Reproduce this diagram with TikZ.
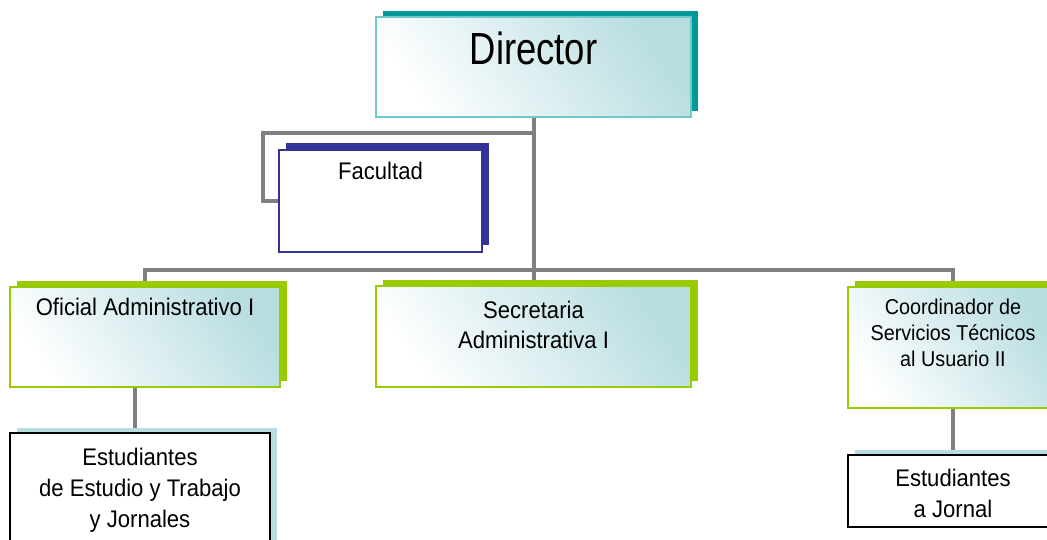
\documentclass[tikz,border=0pt]{standalone}
\usepackage{fontspec}
\setmainfont[FakeStretch=0.92]{Liberation Sans}
\newfontfamily\dirfont[FakeStretch=0.81]{Liberation Sans}
\usepackage{xcolor}
\usetikzlibrary{positioning, shadows, backgrounds}
\definecolor{tealdark}{RGB}{0,153,153}
\definecolor{tealline}{RGB}{110,200,200}
\definecolor{facblue}{RGB}{51,51,153}
\definecolor{offgreen}{RGB}{153,204,0}
\definecolor{paleblue}{RGB}{184,221,225}
\definecolor{linkgray}{RGB}{128,128,128}
\tikzset{
    post/.style={
        rectangle,
        line width=1.2pt,
        inner sep=0pt,
    },
    head/.style={
        post,
        draw=tealline,
        top color=paleblue,
        bottom color=white,
        shading angle=-55,
        general shadow={fill=tealdark, shadow xshift=7pt, shadow yshift=6pt},
    },
    faculty/.style={
        post,
        draw=facblue,
        fill=white,
        general shadow={fill=facblue, shadow xshift=7pt, shadow yshift=7pt},
    },
    office/.style={
        post,
        draw=offgreen,
        top color=paleblue,
        bottom color=white,
        shading angle=-55,
        general shadow={fill=offgreen, shadow xshift=7pt, shadow yshift=6pt},
    },
    student/.style={
        post,
        draw=black,
        fill=white,
        general shadow={fill=paleblue, shadow xshift=7pt, shadow yshift=5pt},
    },
    caption/.style={
        inner sep=0pt,
        align=center,
        font=\fontsize{24}{31}\selectfont,
    },
    link/.style={
        draw=linkgray,
        line width=4pt,
    },
}
\begin{document}
\begin{tikzpicture}[x=1pt, y=-1pt]
    \useasboundingbox (0,0) rectangle (1047,539);
    \clip (0,0) rectangle (1047,539);

    \node [head, minimum width=315pt, minimum height=100pt] (dir) at (533.5,67) {};
    \node [faculty, minimum width=203pt, minimum height=102pt] (fac) at (380.5,201) {};
    \node [office, minimum width=270pt, minimum height=100pt] (ofi) at (145,337) {};
    \node [office, minimum width=315pt, minimum height=101pt] (sec) at (533.5,336.5) {};
    \node [office, minimum width=210pt, minimum height=121pt] (coo) at (953,347.5) {};
    \node [student, minimum width=260pt, minimum height=127pt] (est1) at (140,496.5) {};
    \node [student, minimum width=210pt, minimum height=72pt] (est2) at (953,491) {};

    \node [caption, font=\dirfont\fontsize{45}{48}\selectfont, below=15pt of dir.north] (dir-t) {Director};
    \node [caption, below=13pt of fac.north] (fac-t) {Facultad};
    \node [caption, below=12pt of ofi.north] (ofi-t) {Oficial Administrativo I};
    \node [caption, font=\fontsize{24}{30}\selectfont, below=16pt of sec.north] (sec-t) {Secretaria\\Administrativa I};
    \node [caption, font=\fontsize{21.5}{26}\selectfont, below=12pt of coo.north] (coo-t) {Coordinador de\\Servicios Técnicos\\al Usuario II};
    \node [caption, below=15pt of est1.north] (est1-t) {Estudiantes\\de Estudio y Trabajo\\y Jornales};
    \node [caption, below=14pt of est2.north] (est2-t) {Estudiantes\\a Jornal};

    \begin{scope}[on background layer]
        \coordinate (hub) at (533.5,270);
        \coordinate (fac-hub) at (533.5,133);
        \draw [link] (dir) -- (hub);
        \draw [link] (hub) -| (ofi);
        \draw [link] (hub) -| (coo);
        \draw [link] (hub) -- (sec);
        \draw [link] (fac-hub) -| ([xshift=-15pt]fac.west) -- (fac.west);
        \draw [link] ([xshift=-10pt]ofi.south) -- ([xshift=-10pt]ofi.south |- est1.north);
        \draw [link] (coo) -- (est2);
    \end{scope}
\end{tikzpicture}
\end{document}
